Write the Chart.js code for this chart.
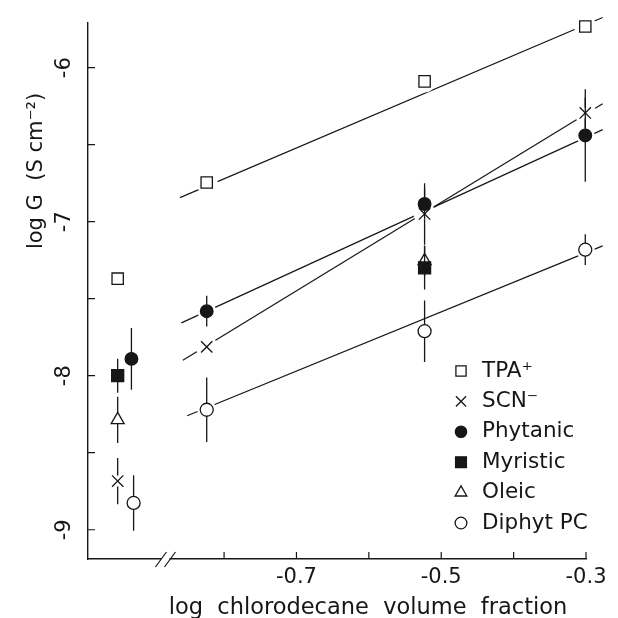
<!DOCTYPE html>
<html>
<head>
<meta charset="utf-8">
<script src="https://cdn.jsdelivr.net/npm/chart.js@4.4.1/dist/chart.umd.min.js"></script>
<style>
  html, body { margin: 0; padding: 0; background: #fff; }
</style>
</head>
<body>
<canvas id="chart" width="618" height="618"></canvas>
<script>
// x = log chlorodecane volume fraction; the column near -0.94 is pure decane, drawn past the axis break
const tpaX = [-0.947, -0.824, -0.523, -0.301];
const tpaY = [-7.37, -6.746, -6.089, -5.733];
const tpaErr = [0, 0, 0, 0];

const scnX = [-0.947, -0.824, -0.523, -0.301];
const scnY = [-8.684, -7.813, -6.95, -6.294];
const scnErr = [0.15, 0, 0.2, 0.1];

const phytanicX = [-0.928, -0.824, -0.523, -0.301];
const phytanicY = [-7.891, -7.581, -6.885, -6.44];
const phytanicErr = [0.2, 0.1, 0.1, 0.3];

const myristicX = [-0.947, -0.523];
const myristicY = [-8.0, -7.30];
const myristicErr = [0.11, 0.14];

const oleicX = [-0.947, -0.523];
const oleicY = [-8.287, -7.254];
const oleicErr = [0.15, 0.1];

const diphytX = [-0.925, -0.824, -0.523, -0.301];
const diphytY = [-8.826, -8.221, -7.711, -7.182];
const diphytErr = [0.18, 0.21, 0.2, 0.1];

// fitted lines (end points)
const tpaFitX = [-0.861, -0.277];
const tpaFitY = [-6.844, -5.674];
const scnFitX = [-0.857, -0.277];
const scnFitY = [-7.90, -6.235];
const phytanicFitX = [-0.859, -0.277];
const phytanicFitY = [-7.657, -6.402];
const diphytFitX = [-0.851, -0.277];
const diphytFitY = [-8.26, -7.157];

const legendLabels = ['TPA\u207A', 'SCN\u207B', 'Phytanic', 'Myristic', 'Oleic', 'Diphyt PC'];
const xTickValues = [-0.8, -0.7, -0.6, -0.5, -0.4, -0.3];
const xTickLabels = ['', '-0.7', '', '-0.5', '', '-0.3'];
const yTickValues = [-9, -8.5, -8, -7.5, -7, -6.5, -6];
const yTickLabels = ['-9', '', '-8', '', '-7', '', '-6'];
const xBreak = -0.881;

const ink = '#161616';
const font = '"DejaVu Sans", sans-serif';

const pts = (xs, ys) => xs.map((x, i) => ({ x, y: ys[i] }));

function markers(label, xs, ys, errs, style, radius, fill, gapUp, gapDown) {
  return {
    type: 'scatter',
    label,
    data: pts(xs, ys),
    errors: errs,
    gapUp, gapDown,
    pointStyle: style,
    pointRadius: radius,
    pointHoverRadius: radius,
    pointBackgroundColor: fill,
    pointBorderColor: ink,
    pointBorderWidth: 1.3,
    clip: false,
    order: 1,
  };
}

function fitLine(xs, ys) {
  return {
    type: 'line',
    data: pts(xs, ys),
    borderColor: ink,
    borderWidth: 1.2,
    pointRadius: 0,
    fill: false,
    clip: false,
    order: 2,
  };
}

const datasets = [
  fitLine(tpaFitX, tpaFitY),
  fitLine(scnFitX, scnFitY),
  fitLine(phytanicFitX, phytanicFitY),
  fitLine(diphytFitX, diphytFitY),
  markers(legendLabels[0], tpaX, tpaY, tpaErr, 'rect', 8, '#fff', 5.7, 5.7),
  markers(legendLabels[1], scnX, scnY, scnErr, 'crossRot', 8, ink, 5.5, 5.5),
  markers(legendLabels[2], phytanicX, phytanicY, phytanicErr, 'circle', 6.3, ink, 6, 6),
  markers(legendLabels[3], myristicX, myristicY, myristicErr, 'rect', 8.5, ink, 6, 6),
  markers(legendLabels[4], oleicX, oleicY, oleicErr, 'triangle', 7.5, '#fff', 7.5, 4),
  markers(legendLabels[5], diphytX, diphytY, diphytErr, 'circle', 6.5, '#fff', 6.2, 6.2),
];

const decor = {
  id: 'decor',
  beforeDatasetsDraw() { this.haloDone = false; },
  beforeDatasetDraw(chart, args) {
    const ds = chart.data.datasets[args.index];
    if (this.haloDone || !ds.errors) return;
    this.haloDone = true;
    // white gap around every marker so fitted lines stop short of it
    const ctx = chart.ctx;
    ctx.save();
    ctx.fillStyle = '#fff';
    chart.data.datasets.forEach((d, i) => {
      if (!d.errors) return;
      chart.getDatasetMeta(i).data.forEach(el => {
        ctx.beginPath();
        ctx.arc(el.x, el.y, d.pointRadius + 3, 0, Math.PI * 2);
        ctx.fill();
      });
    });
    ctx.restore();
  },
  afterDatasetsDraw(chart) {
    const ctx = chart.ctx;
    const xs = chart.scales.x, ys = chart.scales.y;
    const area = chart.chartArea;
    ctx.save();
    ctx.strokeStyle = ink;
    ctx.lineWidth = 1.3;
    // error bars
    chart.data.datasets.forEach((d, i) => {
      if (!d.errors) return;
      chart.getDatasetMeta(i).data.forEach((el, j) => {
        const e = d.errors[j];
        if (!e) return;
        const top = ys.getPixelForValue(d.data[j].y + e);
        const bot = ys.getPixelForValue(d.data[j].y - e);
        ctx.beginPath();
        ctx.moveTo(el.x, top); ctx.lineTo(el.x, el.y - d.gapUp);
        ctx.moveTo(el.x, el.y + d.gapDown); ctx.lineTo(el.x, bot);
        ctx.stroke();
      });
    });
    // inward ticks
    ctx.lineWidth = 1.2;
    ctx.beginPath();
    yTickValues.forEach(v => {
      const p = ys.getPixelForValue(v);
      ctx.moveTo(area.left, p); ctx.lineTo(area.left + 7, p);
    });
    xTickValues.forEach(v => {
      const p = xs.getPixelForValue(v);
      ctx.moveTo(p, area.bottom); ctx.lineTo(p, area.bottom - 7);
    });
    ctx.stroke();
    // axis break
    const bx = xs.getPixelForValue(xBreak);
    ctx.fillStyle = '#fff';
    ctx.fillRect(bx - 4, area.bottom - 3, 8, 6);
    ctx.beginPath();
    ctx.moveTo(bx - 10, area.bottom + 8); ctx.lineTo(bx + 1, area.bottom - 7);
    ctx.moveTo(bx - 1, area.bottom + 8); ctx.lineTo(bx + 10, area.bottom - 7);
    ctx.stroke();
    // tick labels
    ctx.fillStyle = ink;
    ctx.font = '21px ' + font;
    ctx.textAlign = 'center';
    ctx.textBaseline = 'middle';
    xTickValues.forEach((v, i) => {
      if (xTickLabels[i]) ctx.fillText(xTickLabels[i], xs.getPixelForValue(v), area.bottom + 19);
    });
    yTickValues.forEach((v, i) => {
      if (!yTickLabels[i]) return;
      ctx.save();
      ctx.translate(area.left - 23, ys.getPixelForValue(v));
      ctx.rotate(-Math.PI / 2);
      ctx.fillText(yTickLabels[i], 0, 0);
      ctx.restore();
    });
    // axis titles
    ctx.font = '22.5px ' + font;
    ctx.fillText('log  chlorodecane  volume  fraction', 368, area.bottom + 49);
    ctx.font = '21px ' + font;
    ctx.save();
    ctx.translate(37, 171);
    ctx.rotate(-Math.PI / 2);
    ctx.fillText('log G  (S cm\u207B\u00B2)', 0, 0);
    ctx.restore();
    // legend
    ctx.textAlign = 'left';
    ctx.font = '21.5px ' + font;
    const lx = 461, ly = 371, step = 30.4;
    chart.data.datasets.filter(d => d.errors).forEach((d, i) => {
      const y = ly + i * step;
      ctx.fillStyle = d.pointBackgroundColor;
      ctx.strokeStyle = ink;
      ctx.lineWidth = 1.3;
      Chart.helpers.drawPoint(ctx, {
        pointStyle: d.pointStyle,
        radius: d.pointRadius * 0.9,
        rotation: 0,
        borderWidth: 1.3,
      }, lx, y);
      ctx.fillStyle = ink;
      ctx.fillText(d.label, lx + 21, y);
    });
    ctx.restore();
  },
};

new Chart(document.getElementById('chart'), {
  data: { datasets },
  options: {
    responsive: false,
    animation: false,
    layout: { padding: { left: 88, top: 23, right: 32, bottom: 59 } },
    plugins: { legend: { display: false }, tooltip: { enabled: false } },
    scales: {
      x: {
        type: 'linear',
        min: -0.988,
        max: -0.3,
        ticks: { display: false },
        grid: { display: false, drawTicks: false },
        border: { display: true, color: ink, width: 1.4 },
      },
      y: {
        type: 'linear',
        min: -9.19,
        max: -5.71,
        ticks: { display: false },
        grid: { display: false, drawTicks: false },
        border: { display: true, color: ink, width: 1.4 },
      },
    },
  },
  plugins: [decor],
});
</script>
</body>
</html>
